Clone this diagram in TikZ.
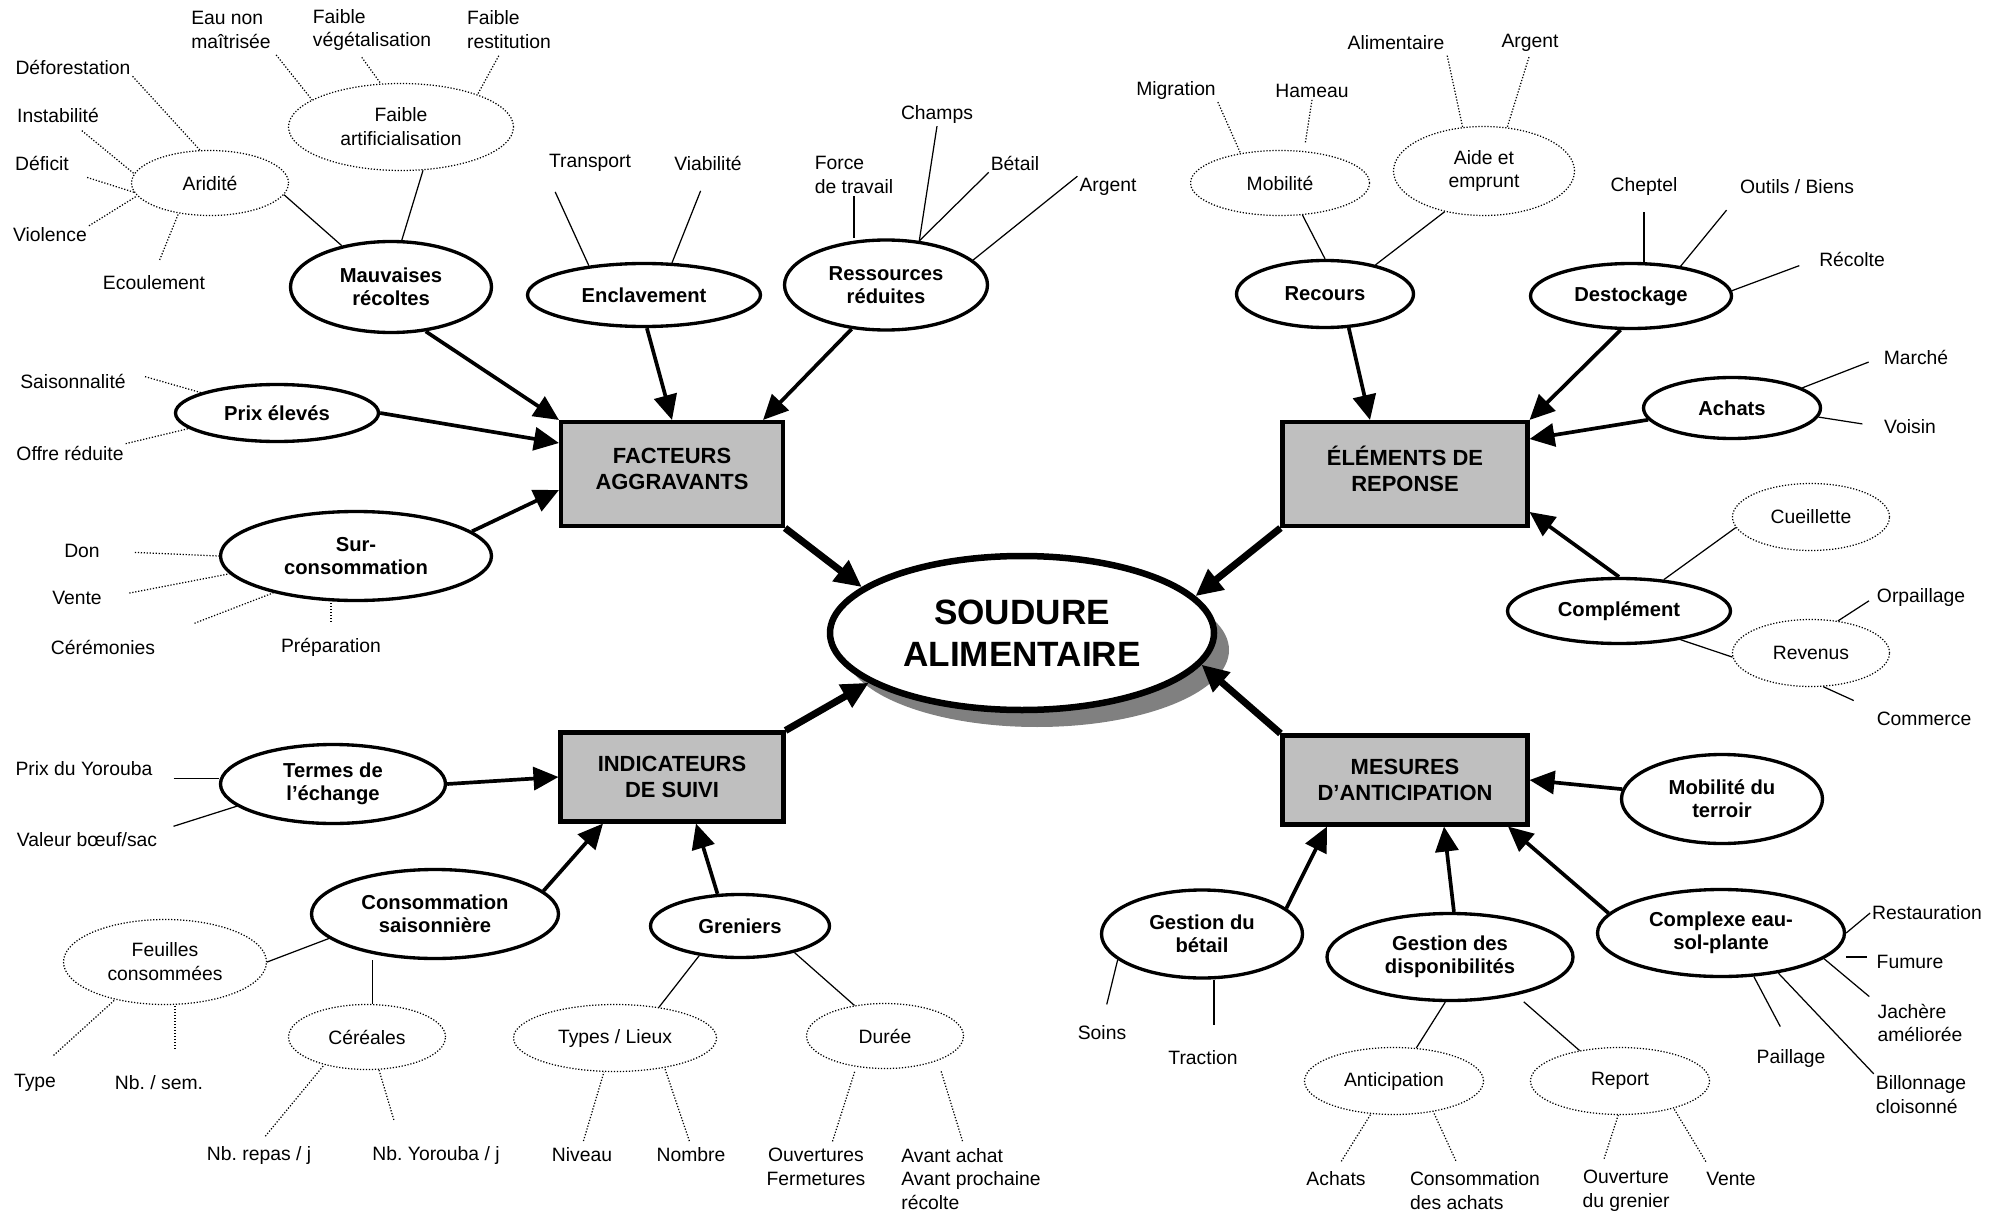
\documentclass[tikz,border=0pt]{standalone}
\usepackage{fontspec}
\setmainfont{Liberation Sans}
\usetikzlibrary{arrows.meta,shapes.geometric,shadows}
\frenchspacing
\newcommand\leaffont{\fontsize{11}{13.6}\selectfont}
\newcommand\bubblefont{\fontsize{11.5}{13}\selectfont\bfseries}
\newcommand\themefont{\fontsize{12.5}{14.7}\selectfont\bfseries}
\newcommand\hubfont{\fontsize{20}{24}\selectfont\bfseries}
\tikzset{
	sz/.style 2 args={minimum width=#1*0.02cm, minimum height=#2*0.02cm},
	leaf/.style={inner sep=1pt, font=\leaffont, align=center},
	bubble/.style={ellipse, draw, line width=1.9pt, inner sep=0pt, font=\bubblefont, align=center},
	cloud/.style={ellipse, draw, line width=0.7pt, dash pattern=on 0.7pt off 1pt, inner sep=0pt, font=\leaffont, align=center},
	theme/.style={rectangle, draw, fill=black!25, line width=2.3pt, inner sep=0pt, font=\themefont, align=center},
	hub/.style={ellipse, draw, fill=white, line width=3.7pt, inner sep=0pt, font=\hubfont, align=center,
		drop shadow={shadow xshift=0.3cm, shadow yshift=-0.34cm, fill=black!50, opacity=1}},
	twig/.style={line width=0.7pt},
	dotline/.style={line width=0.7pt, dash pattern=on 0.7pt off 1pt},
	feed/.style={line width=2.1pt, -{Triangle[length=0.5cm, width=0.46cm]}},
	bigfeed/.style={line width=4pt, -{Triangle[length=0.54cm, width=0.5cm]}}
}

\begin{document}
\begin{tikzpicture}[x=0.02cm, y=-0.02cm]
			%%%%% START %%%%%
			\useasboundingbox (0,0) rectangle (2001,1213);
			
			\node[leaf, align=left] (eau) at (231,30) {Eau non\\maîtrisée};
			\node[leaf, align=left] (veg) at (372,30) {Faible\\végétalisation};
			\node[leaf, align=left] (restit) at (509,30) {Faible\\restitution};
			\node[leaf] (defo) at (73,67) {Déforestation};
			\node[leaf] (instab) at (58,115) {Instabilité};
			\node[leaf] (deficit) at (42,163) {Déficit};
			\node[leaf] (violence) at (50,235) {Violence};
			\node[leaf] (ecoul) at (154,283) {Ecoulement};
			\node[cloud, sz={157}{65}] (arid) at (210,183) {Aridité};
			\node[cloud, sz={225}{87}] (artif) at (401,127) {Faible\\artificialisation};
			\node[bubble, sz={201}{91}] (mauv) at (391,287) {Mauvaises\\récoltes};
			
			\draw[dotline, shorten <=3pt] (eau.south east) -- (artif.163);
			\draw[dotline, shorten <=3pt] (veg.-120) -- (artif.115);
			\draw[dotline, shorten <=3pt] (restit.-110) -- (artif.23);
			\draw[dotline] (defo.south east) -- (arid.107);
			\draw[dotline, shorten <=0.2cm] (instab.-30) -- (arid.173);
			\draw[dotline, shorten <=0.34cm] (deficit.south east) -- (arid.187);
			\draw[dotline] (violence.north east) -- (arid.190);
			\draw[dotline, shorten <=0.3cm] (ecoul.north) -- (arid.224);
			\draw[twig] (arid.351) -- (mauv.140);
			\draw[twig] (artif.297) -- (mauv.77);
			
			\node[leaf] (transp) at (590,163) {Transport};
			\node[leaf] (viab) at (708,163) {Viabilité};
			\node[bubble, sz={233}{63}] (encl) at (644,295) {Enclavement};
			\draw[twig, shorten <=0.4cm] (transp.south west) -- (encl.152);
			\draw[twig, shorten <=0.4cm] (viab.south) -- (encl.49);
			
			\node[leaf, align=left] (force) at (854,175) {Force\\de travail};
			\node[leaf] (champs) at (937,115) {Champs};
			\node[leaf] (betail) at (1015,163) {Bétail};
			\node[leaf] (argenta) at (1108,187) {Argent};
			\node[bubble, sz={203}{90}] (ress) at (886,285) {Ressources\\réduites};
			\draw[twig] (force.south) -- (force.south |- ress.north);
			\draw[twig] (champs.south) -- (ress.53);
			\draw[twig] (betail.south west) -- (ress.53);
			\draw[twig] (argenta.north west) -- (ress.16);
			
			\node[leaf] (saison) at (73,381) {Saisonnalité};
			\node[leaf] (offre) at (70,453) {Offre réduite};
			\node[bubble, sz={203}{57}] (prix) at (277,413) {Prix élevés};
			\draw[dotline, shorten <=0.36cm] (saison.north east) -- (prix.165);
			\draw[dotline] (offre.north east) -- (prix.190);
			
			\node[leaf] (don) at (82,551) {Don};
			\node[leaf] (ventea) at (77,598) {Vente};
			\node[leaf] (cerem) at (103,647) {Cérémonies};
			\node[leaf] (prep) at (331,647) {Préparation};
			\node[bubble, sz={271}{89}] (sur) at (356,556) {Sur-\\consommation};
			\draw[dotline, shorten <=0.66cm] (don.east) -- (sur.west);
			\draw[dotline, shorten <=0.52cm] (ventea.east) -- (sur.188);
			\draw[dotline, shorten <=0.8cm] (cerem.north east) -- (sur.204);
			\draw[dotline, shorten <=0.28cm] (prep.north) -- (prep.north |- sur.south);
			
			\node[theme, sz={222}{104}] (fact) at (672,474) {FACTEURS\\AGGRAVANTS\\[-0.32cm]};
			\draw[feed] (mauv.308) -- (fact.north west);
			\draw[feed] (encl.275) -- (fact.north);
			\draw[feed] (ress.232) -- ([xshift=-0.44cm]fact.north east);
			\draw[feed] (prix.east) -- ([yshift=0.62cm]fact.west);
			\draw[feed] (sur.12) -- ([yshift=-0.32cm]fact.west);
			
			\node[leaf] (alim) at (1396,43) {Alimentaire};
			\node[leaf] (argentb) at (1530,43) {Argent};
			\node[leaf] (migr) at (1176,91) {Migration};
			\node[leaf] (hameau) at (1312,91) {Hameau};
			\node[cloud, sz={179}{65}] (mobil) at (1280,183) {Mobilité};
			\node[cloud, sz={181}{89}] (aide) at (1484,171) {Aide et\\emprunt};
			\node[bubble, sz={177}{67}] (recours) at (1325,294) {Recours};
			\draw[dotline] (migr.south east) -- (mobil.143);
			\draw[dotline, shorten >=0.16cm] (hameau.south) -- (mobil.53);
			\draw[dotline, shorten <=2pt] (alim.south east) -- (aide.116);
			\draw[dotline, shorten <=2pt] (argentb.south) -- (aide.62);
			\draw[twig] (mobil.305) -- (recours.north);
			\draw[twig] (aide.226) -- (recours.30);
			
			\node[leaf] (cheptel) at (1644,187) {Cheptel};
			\node[leaf] (outils) at (1797,187) {Outils / Biens};
			\node[leaf] (recolte) at (1852,259) {Récolte};
			\node[bubble, sz={201}{65}] (destock) at (1631,296) {Destockage};
			\draw[twig, shorten <=0.28cm] (cheptel.south) -- (cheptel.south |- destock.north);
			\draw[twig, shorten <=0.36cm] (outils.south west) -- (destock.31);
			\draw[twig, shorten <=0.38cm] (recolte.west) -- (destock.3);
			
			\node[leaf] (marche) at (1916,357) {Marché};
			\node[leaf] (voisin) at (1910,427) {Voisin};
			\node[bubble, sz={177}{61}] (achats) at (1732,408) {Achats};
			\draw[twig, shorten <=0.28cm] (marche.west) -- (achats.16);
			\draw[twig, shorten <=0.4cm] (voisin.west) -- (achats.354);
			
			\node[cloud, sz={157}{67}] (cueil) at (1811,517) {Cueillette};
			\node[bubble, sz={223}{65}] (compl) at (1619,611) {Complément};
			\node[cloud, sz={157}{67}] (revenus) at (1811,653) {Revenus};
			\node[leaf] (orpail) at (1921,597) {Orpaillage};
			\node[leaf] (commerce) at (1924,719) {Commerce};
			\draw[twig] (cueil.188) -- (compl.35);
			\draw[twig] (revenus.183) -- (compl.335);
			\draw[twig, shorten <=0.14cm] (orpail.west) -- (revenus.50);
			\draw[twig, shorten <=0.46cm] (commerce.north west) -- (revenus.290);
			
			\node[theme, sz={245}{104}] (elem) at (1405,474) {ÉLÉMENTS DE\\REPONSE\\[-0.32cm]};
			\draw[feed] (recours.305) -- ([xshift=-0.7cm]elem.north);
			\draw[feed] (destock.253) -- (elem.north east);
			\draw[feed] (achats.188) -- ([yshift=0.7cm]elem.east);
			\draw[feed] (compl.north) -- ([yshift=-0.76cm]elem.east);
			
			\node[leaf] (pyor) at (84,769) {Prix du Yorouba};
			\node[leaf] (valeur) at (87,840) {Valeur bœuf/sac};
			\node[bubble, sz={225}{79}] (termes) at (333,784) {Termes de\\l’échange};
			\draw[twig, shorten <=0.38cm] (pyor.south east) -- (pyor.south east -| termes.west);
			\draw[twig, shorten <=0.3cm] (valeur.north east) -- (termes.193);
			
			\node[bubble, sz={247}{89}] (conso) at (435,914) {Consommation\\saisonnière};
			\node[bubble, sz={179}{63}] (gren) at (740,926) {Greniers};
			\node[cloud, sz={203}{85}] (feuil) at (165,962) {Feuilles\\consommées};
			\node[cloud, sz={157}{65}] (cereal) at (367,1037) {Céréales};
			\node[cloud, sz={203}{67}] (types) at (615,1038) {Types / Lieux};
			\node[cloud, sz={157}{65}] (duree) at (885,1036) {Durée};
			\draw[twig] (feuil.east) -- (conso.193);
			\draw[twig] (cereal.80) -- (cereal.80 |- conso.south);
			\draw[twig] (gren.216) -- (types.35);
			\draw[twig] (gren.334) -- (duree.135);
			
			\node[leaf] (typ) at (35,1083) {Type};
			\node[leaf] (nbsem) at (159,1083) {Nb. / sem.};
			\node[leaf] (nbrepas) at (259,1155) {Nb. repas / j};
			\node[leaf] (nbyor) at (436,1155) {Nb. Yorouba / j};
			\node[leaf] (niveau) at (582,1155) {Niveau};
			\node[leaf] (nombre) at (691,1155) {Nombre};
			\node[leaf] (ouvferm) at (816,1167) {Ouvertures\\Fermetures};
			\node[leaf, align=left] (avant) at (971,1179) {Avant achat\\Avant prochaine\\récolte};
			\draw[dotline, shorten <=0.5cm] (typ.north) -- (feuil.217);
			\draw[dotline, shorten <=0.5cm] ([xshift=0.32cm]nbsem.north) -- ([xshift=0.32cm]nbsem.north |- feuil.south);
			\draw[dotline, shorten <=0.2cm] (nbrepas.north) -- (cereal.213);
			\draw[dotline, shorten <=0.5cm] ([xshift=-0.7cm]nbyor.north) -- (cereal.290);
			\draw[dotline, shorten <=0.1cm] (niveau.north) -- (types.252);
			\draw[dotline, shorten <=0.1cm] (nombre.north) -- (types.329);
			\draw[dotline, shorten <=0.1cm, shorten >=0.1cm] ([xshift=0.3cm]ouvferm.north) -- (duree.227);
			\draw[dotline, shorten <=0.1cm, shorten >=0.2cm] ([xshift=-0.14cm]avant.north) -- (duree.335);
			
			\node[theme, sz={223}{89}] (ind) at (672,777) {INDICATEURS\\DE SUIVI};
			\draw[feed] (termes.east) -- (ind.west);
			\draw[feed] (conso.12) -- ([xshift=-1.38cm]ind.south);
			\draw[feed] (gren.125) -- ([xshift=0.48cm]ind.south);
			
			\node[theme, sz={245}{89}] (mes) at (1405,780) {MESURES\\D’ANTICIPATION};
			\node[bubble, sz={201}{89}] (terroir) at (1722,799) {Mobilité du\\terroir};
			\node[bubble, sz={201}{88}] (gbetail) at (1202,934) {Gestion du\\bétail};
			\node[bubble, sz={246}{87}] (dispo) at (1450,957) {Gestion des\\disponibilités};
			\node[bubble, sz={247}{87}] (cplx) at (1721,933) {Complexe eau-\\sol-plante};
			\draw[feed] (terroir) -- (mes.east);
			\draw[feed] (gbetail.17) -- ([xshift=-1.56cm]mes.south);
			\draw[feed] (dispo.85) -- ([xshift=0.78cm]mes.south);
			\draw[feed] (cplx.170) -- ([xshift=2.06cm]mes.south);
			
			\node[leaf] (soins) at (1102,1033) {Soins};
			\node[leaf] (traction) at (1203,1058) {Traction};
			\draw[twig, shorten <=0.4cm] (soins.north) -- (gbetail.197);
			\draw[twig, shorten <=0.48cm] ([xshift=0.22cm]traction.north) -- ([xshift=0.22cm]traction.north |- gbetail.south);
			
			\node[cloud, sz={179}{67}] (antic) at (1394,1081) {Anticipation};
			\node[cloud, sz={179}{67}] (report) at (1620,1081) {Report};
			\draw[twig] (dispo.264) -- (antic.56);
			\draw[twig, shorten <=0.2cm] (dispo.330) -- (report.143);
			\node[leaf] (achatsb) at (1336,1179) {Achats};
			\node[leaf, align=left] (consach) at (1475,1191) {Consommation\\des achats};
			\node[leaf] (ouvgren) at (1626,1191) {Ouverture\\du grenier};
			\node[leaf] (venteb) at (1731,1179) {Vente};
			\draw[dotline, shorten <=0.2cm] (achatsb.north) -- (antic.235);
			\draw[dotline, shorten <=0.2cm] ([xshift=-0.3cm]consach.north) -- (antic.322);
			\draw[dotline, shorten <=0.2cm] ([xshift=-0.5cm]ouvgren.north) -- (report.267);
			\draw[dotline, shorten <=0.2cm] ([xshift=-0.4cm]venteb.north) -- (report.333);
			
			\node[leaf] (restaur) at (1927,913) {Restauration};
			\node[leaf] (fumure) at (1910,962) {Fumure};
			\node[leaf, align=left] (jachere) at (1920,1023) {Jachère\\améliorée};
			\node[leaf, align=left] (billon) at (1921,1095) {Billonnage\\cloisonné};
			\node[leaf] (paillage) at (1791,1058) {Paillage};
			\draw[twig] (restaur.west) -- (cplx.east);
			\draw[twig, shorten <=0.16cm] ([yshift=0.1cm]fumure.west) -- ++(-0.58cm,0);
			\draw[twig, shorten <=0.16cm] (jachere.north west) -- (cplx.346);
			\draw[twig] (billon.north west) -- (cplx.325);
			\draw[twig, shorten <=0.46cm] (paillage.north) -- (cplx.307);
			
			\node[hub, sz={384}{154}] (soud) at (1022,633) {SOUDURE\\ALIMENTAIRE};
			\draw[bigfeed] (fact.south east) -- (soud.164);
			\draw[bigfeed] (ind.north east) -- (soud.198);
			\draw[bigfeed] (elem.south west) -- (soud.12);
			\draw[bigfeed] (mes.north west) -- (soud.350);
			%%%%% END %%%%%
\end{tikzpicture}
\end{document}
